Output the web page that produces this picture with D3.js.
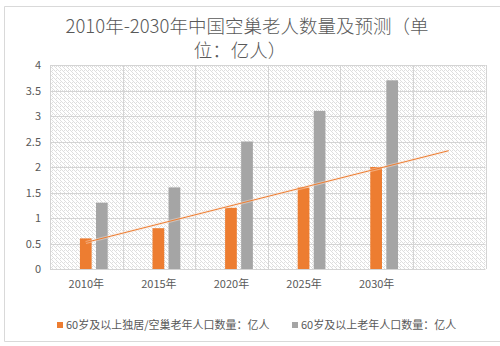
<!DOCTYPE html>
<html>
<head>
<meta charset="utf-8">
<script src="https://cdn.jsdelivr.net/npm/d3@7"></script>
<style>
  html, body { margin: 0; padding: 0; background: #fff; }
  svg { display: block; }
  text { font-family: "Noto Sans CJK SC", "Noto Sans", sans-serif; fill: #595959; }
</style>
</head>
<body>
<svg id="chart" width="500" height="346"></svg>
<script>
// Years shown on the category axis; the last slot is left empty for the trend forecast
const categories = ["2010年", "2015年", "2020年", "2025年", "2030年", ""];
const years = ["2010年", "2015年", "2020年", "2025年", "2030年"];
// 60岁及以上独居/空巢老年人口数量（亿人）
const emptyNest = [0.6, 0.8, 1.2, 1.6, 2.0];
// 60岁及以上老年人口数量（亿人）
const elderly = [1.3, 1.6, 2.5, 3.1, 3.7];
const yTicks = [0, 0.5, 1, 1.5, 2, 2.5, 3, 3.5, 4];
const titleLines = ["2010年-2030年中国空巢老人数量及预测（单", "位：亿人）"];
const seriesNames = ["60岁及以上独居/空巢老年人口数量：亿人", "60岁及以上老年人口数量：亿人"];

const orange = "#ED7D31", gray = "#A5A5A5";
const svg = d3.select("#chart");

// chart frame
svg.append("path")
  .attr("d", "M500,6.5 H4.5 V341.5 H500")
  .attr("fill", "none").attr("stroke", "#d9d9d9").attr("stroke-width", 1);

// hatched plot background
const defs = svg.append("defs");
const pat = defs.append("pattern")
  .attr("id", "hatch").attr("patternUnits", "userSpaceOnUse")
  .attr("width", 4).attr("height", 4);
pat.append("rect").attr("width", 4).attr("height", 4).attr("fill", "#fff");
pat.append("path")
  .attr("d", "M-1,1 l2,2 M0,0 l4,4 M3,-1 l2,2")
  .attr("stroke", "#dedede").attr("stroke-width", 1);

const plot = { left: 50, right: 485.5, top: 65, bottom: 269 };

const x = d3.scaleBand().domain(categories).range([plot.left, plot.right]).padding(0);
const y = d3.scaleLinear().domain([0, 4]).range([plot.bottom, plot.top]);
// three slots per category: the first is unused, then the two bar series
const inner = d3.scaleBand().domain(["_", "a", "b"]).range([-24.5, 23.5]).paddingInner(0.27).paddingOuter(0.13);

svg.append("rect")
  .attr("x", plot.left).attr("y", plot.top)
  .attr("width", plot.right - plot.left).attr("height", plot.bottom - plot.top)
  .attr("fill", "url(#hatch)");

// horizontal gridlines
svg.append("g").selectAll("line").data(yTicks).join("line")
  .attr("x1", plot.left).attr("x2", plot.right)
  .attr("y1", d => Math.round(y(d)) + 0.5).attr("y2", d => Math.round(y(d)) + 0.5)
  .attr("stroke", "#d4d4d4").attr("stroke-width", 1);

// vertical gridlines at category boundaries
svg.append("g").selectAll("line").data(categories.concat(["end"])).join("line")
  .attr("x1", (d, i) => Math.round(plot.left + i * x.bandwidth()) + 0.5)
  .attr("x2", (d, i) => Math.round(plot.left + i * x.bandwidth()) + 0.5)
  .attr("y1", plot.top).attr("y2", plot.bottom)
  .attr("stroke", "#d4d4d4").attr("stroke-width", 1);

// y axis labels
const yAxis = d3.axisLeft(y).tickValues(yTicks).tickSize(0).tickPadding(0).tickFormat(d3.format(""));
svg.append("g").attr("transform", `translate(${plot.left - 9},0)`).call(yAxis)
  .call(g => g.select(".domain").remove())
  .selectAll("text").style("font-size", "11px").attr("fill", "#595959").attr("dy", "0.35em");

// x axis labels
const xAxis = d3.axisBottom(x).tickSize(0).tickPadding(0);
svg.append("g").attr("transform", `translate(0,${plot.bottom + 10})`).call(xAxis)
  .call(g => g.select(".domain").remove())
  .selectAll("text").style("font-size", "11px").attr("fill", "#595959").attr("dy", "0.85em");

// bars
const center = d => x(d) + x.bandwidth() / 2;
svg.append("g").selectAll("rect").data(years.map((c, i) => ({ c, v: emptyNest[i] }))).join("rect")
  .attr("x", d => center(d.c) + inner("a")).attr("width", inner.bandwidth())
  .attr("y", d => y(d.v)).attr("height", d => y(0) - y(d.v))
  .attr("fill", orange);
svg.append("g").selectAll("rect").data(years.map((c, i) => ({ c, v: elderly[i] }))).join("rect")
  .attr("x", d => center(d.c) + inner("b")).attr("width", inner.bandwidth())
  .attr("y", d => y(d.v)).attr("height", d => y(0) - y(d.v))
  .attr("fill", gray);

// linear trend of the empty-nest series, forecast one period forward
const xs = emptyNest.map((d, i) => i + 1);
const mx = d3.mean(xs), my = d3.mean(emptyNest);
const slope = d3.sum(xs, (xi, i) => (xi - mx) * (emptyNest[i] - my)) / d3.sum(xs, xi => (xi - mx) ** 2);
const intercept = my - slope * mx;
const trend = [1, 6].map(t => ({ c: categories[t - 1], v: intercept + slope * t }));
const line = d3.line().x(d => center(d.c) + inner("a") + inner.bandwidth() / 2).y(d => y(d.v));
svg.append("path").datum(trend).attr("d", line)
  .attr("fill", "none").attr("stroke", "#fbe3d2").attr("stroke-width", 3).attr("stroke-opacity", 0.45);
svg.append("path").datum(trend).attr("d", line)
  .attr("fill", "none").attr("stroke", orange).attr("stroke-width", 1);

// title
svg.append("g").selectAll("text").data(titleLines).join("text")
  .attr("x", (d, i) => i === 0 ? 247 : 240).attr("y", (d, i) => 33 + i * 24)
  .attr("text-anchor", "middle")
  .style("font-size", "18.5px").style("font-weight", 300)
  .text(d => d);

// legend
const legend = [
  { name: seriesNames[0], color: orange, x: 57 },
  { name: seriesNames[1], color: gray, x: 292 }
];
const lg = svg.append("g").selectAll("g").data(legend).join("g")
  .attr("transform", d => `translate(${d.x},325)`);
lg.append("rect").attr("x", 0).attr("y", -3).attr("width", 6).attr("height", 6).attr("fill", d => d.color);
lg.append("text").attr("x", 9).attr("dy", "0.35em").style("font-size", "11px").text(d => d.name);
</script>
</body>
</html>
